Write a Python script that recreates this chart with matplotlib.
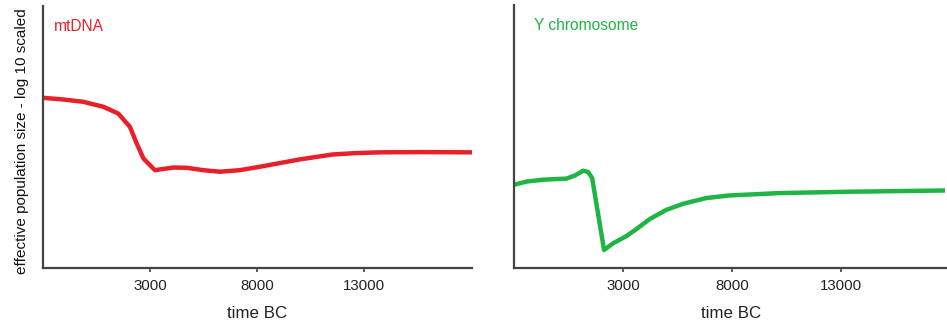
import numpy as np
import matplotlib.pyplot as plt

plt.rcParams['font.family'] = ['Liberation Sans', 'DejaVu Sans']

# mtDNA curve (time BC, scaled log10 Ne)
mt_time = [-2000, -1200, -120, 820, 1520, 2065, 2380, 2690, 3230, 4090, 4715, 5490, 6270,
           7200, 8140, 9000, 10000, 11550, 12580, 13750, 15600, 18050]
mt_ne = [0.650, 0.645, 0.635, 0.616, 0.590, 0.539, 0.476, 0.419, 0.374, 0.384, 0.383, 0.374, 0.368,
         0.374, 0.387, 0.400, 0.415, 0.434, 0.439, 0.442, 0.443, 0.442]

# Y chromosome curve
y_time = [-2000, -1420, -660, 400, 785, 1165, 1390, 1575, 2120, 2530, 3150, 3600, 4210,
          4970, 5730, 6800, 7860, 10150, 13200, 17760]
y_ne = [0.317, 0.329, 0.336, 0.340, 0.352, 0.370, 0.365, 0.342, 0.069, 0.094, 0.122, 0.148, 0.186,
        0.221, 0.244, 0.266, 0.276, 0.285, 0.290, 0.295]

ticks = [3000, 8000, 13000]

fig = plt.figure(figsize=(9.47, 3.25), dpi=100)
ax1 = fig.add_axes([0.0454, 0.175, 0.453, 0.806])
ax2 = fig.add_axes([0.543, 0.175, 0.457, 0.81])

panels = [
    (ax1, mt_time, mt_ne, '#e8202a', 'mtDNA', 18050, 0.026),
    (ax2, y_time, y_ne, '#1fb544', 'Y chromosome', 17850, 0.046),
]

for ax, t, v, col, name, xmax, tx in panels:
    ax.plot(t, v, color=col, lw=3.2, solid_capstyle='butt', solid_joinstyle='round')
    ax.set_xlim(-2000, xmax)
    ax.set_ylim(0, 1)
    ax.set_xticks(ticks)
    ax.set_xticklabels([str(x) for x in ticks], fontsize=10.8, color='#222222')
    ax.set_yticks([])
    ax.tick_params(axis='x', length=3, width=1.2, color='#444444', pad=5)
    for s in ['top', 'right']:
        ax.spines[s].set_visible(False)
    for s in ['left', 'bottom']:
        ax.spines[s].set_color('#444444')
        ax.spines[s].set_linewidth(1.6)
    ax.set_xlabel('time BC', fontsize=12.2, color='#222222', labelpad=9)
    ax.text(tx, 0.905, name, transform=ax.transAxes, color=col, fontsize=11.2)

fig.text(0.023, 0.566, 'effective population size - log 10 scaled', rotation=90,
         ha='center', va='center', fontsize=11, color='#111111')

fig.savefig('out.png', dpi=100)
